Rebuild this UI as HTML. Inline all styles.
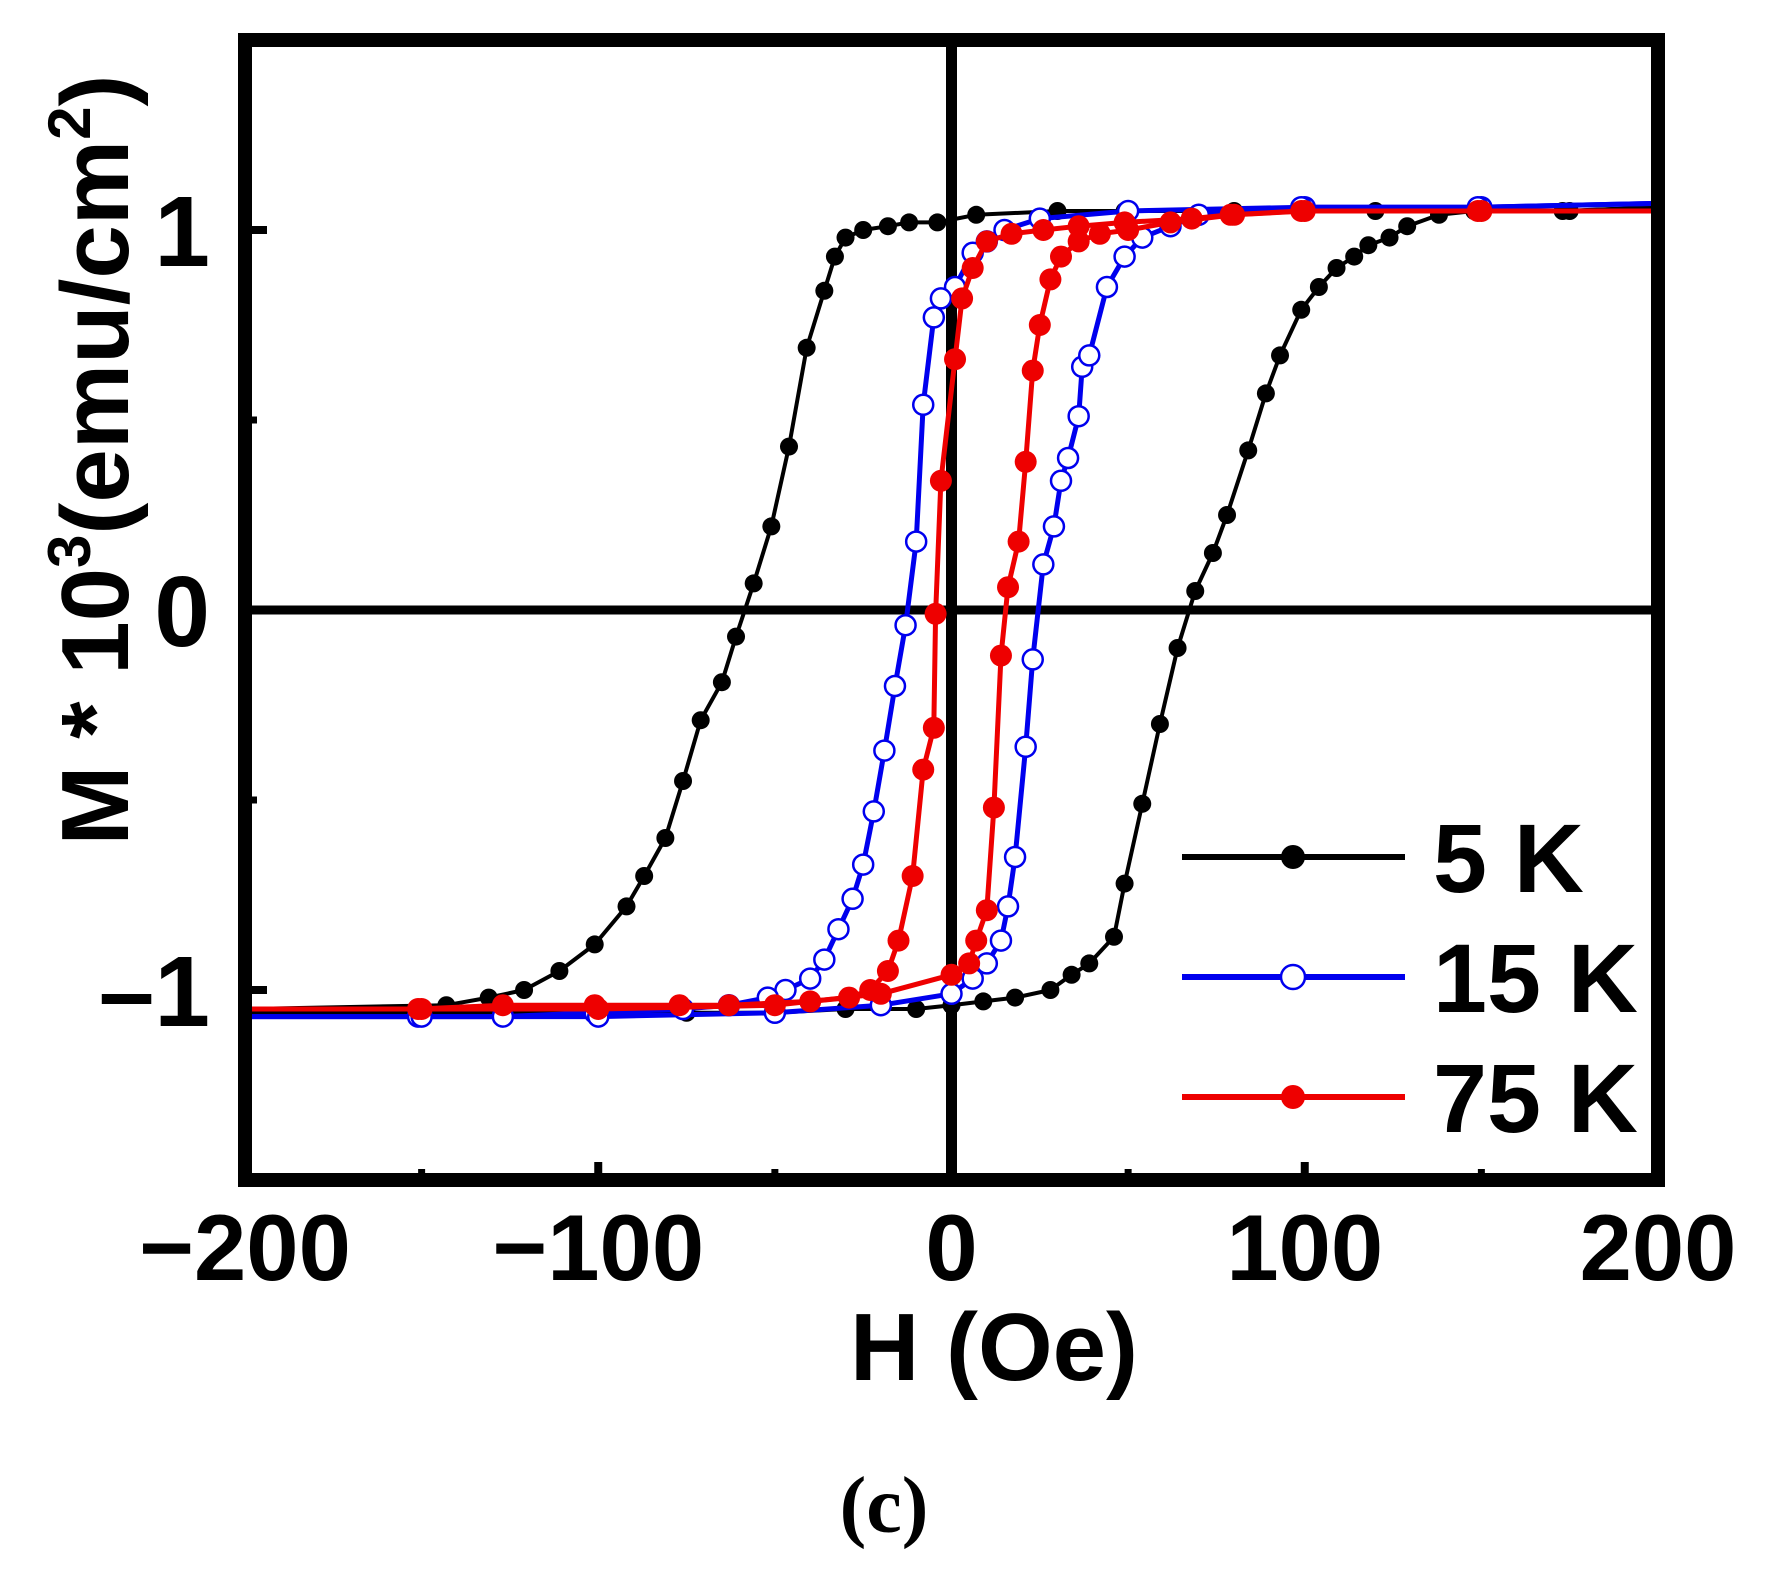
<!DOCTYPE html>
<html><head><meta charset="utf-8"><style>
html,body{margin:0;padding:0;background:#fff;}
svg{display:block;}
text{font-family:"Liberation Sans",sans-serif;font-weight:bold;}
</style></head><body>
<svg id="chart" width="1768" height="1588" viewBox="0 0 1768 1588" xmlns="http://www.w3.org/2000/svg">
<g id="marks"></g>
<g id="axes"></g>
<g id="legend"></g>
<text x="994" y="1380" font-size="96" text-anchor="middle">H (Oe)</text>
<text transform="translate(128,460) rotate(-90)" font-size="96" text-anchor="middle">M * 10<tspan font-size="60" dy="-38">3</tspan><tspan dy="38">(emu/cm</tspan><tspan font-size="60" dy="-38">2</tspan><tspan dy="38">)</tspan></text>
<text x="884" y="1532" font-size="80" text-anchor="middle" style="font-family:'Liberation Serif',serif;font-weight:bold">(c)</text>
</svg>
<script>
// ---- data ----
const xTicks = [-200, -100, 0, 100, 200];
const yTicks = [-1, 0, 1];
const xMinor = [-150, -50, 50, 150];
const yMinor = [-0.5, 0.5];
const seriesNames = ['5 K', '15 K', '75 K'];
// 5 K
const k5H_down = [200,173,148,120,100,80,49,30,7,-4,-12,-18,-25,-30,-33,-36,-41,-46,-51,-56,-61,-65,-71,-76,-81,-87,-92,-101,-111,-121,-131,-143,-200];
const k5M_down = [1.06,1.05,1.05,1.05,1.05,1.05,1.05,1.05,1.04,1.02,1.02,1.01,1.0,0.98,0.93,0.84,0.69,0.43,0.22,0.07,-0.07,-0.19,-0.29,-0.45,-0.6,-0.7,-0.78,-0.88,-0.95,-1.0,-1.02,-1.04,-1.05];
const k5H_up = [-200,-150,-100,-75,-50,-30,-10,0,9,18,28,34,39,46,49,54,59,64,69,74,78,84,89,93,99,104,109,114,118,124,129,138,148,175,200];
const k5M_up = [-1.06,-1.06,-1.06,-1.06,-1.06,-1.05,-1.05,-1.04,-1.03,-1.02,-1.0,-0.96,-0.93,-0.86,-0.72,-0.51,-0.3,-0.1,0.05,0.15,0.25,0.42,0.57,0.67,0.79,0.85,0.9,0.93,0.96,0.98,1.01,1.04,1.05,1.05,1.06];
// 15 K
const k15H_down = [200,150,100,50,25,15,10,6,1,-3,-5,-8,-10,-13,-16,-19,-22,-25,-28,-32,-36,-40,-47,-52,-63,-76,-101,-127,-151,-200];
const k15M_down = [1.07,1.06,1.06,1.05,1.03,1.0,0.97,0.94,0.85,0.82,0.77,0.54,0.18,-0.04,-0.2,-0.37,-0.53,-0.67,-0.76,-0.84,-0.92,-0.97,-1.0,-1.02,-1.04,-1.05,-1.06,-1.07,-1.07,-1.07];
const k15H_up = [-200,-150,-100,-50,-20,0,6,10,14,16,18,21,23,26,29,31,33,36,37,39,44,49,54,62,70,99,149,200];
const k15M_up = [-1.07,-1.07,-1.07,-1.06,-1.04,-1.01,-0.97,-0.93,-0.87,-0.78,-0.65,-0.36,-0.13,0.12,0.22,0.34,0.4,0.51,0.64,0.67,0.85,0.93,0.98,1.01,1.04,1.06,1.06,1.07];
// 75 K
const k75H_down = [200,149,99,79,68,49,36,26,17,10,6,3,1,-3,-4.5,-5,-8,-11,-15,-18,-23,-29,-40,-63,-77,-101,-127,-151,-200];
const k75M_down = [1.05,1.05,1.05,1.04,1.03,1.02,1.01,1.0,0.99,0.97,0.9,0.82,0.66,0.34,-0.01,-0.31,-0.42,-0.7,-0.87,-0.95,-1.0,-1.02,-1.03,-1.04,-1.04,-1.04,-1.04,-1.05,-1.05];
const k75H_up = [-200,-150,-100,-50,-20,0,5,7,10,12,14,16,19,21,23,25,28,31,36,42,50,62,80,100,150,200];
const k75M_up = [-1.05,-1.05,-1.05,-1.04,-1.01,-0.96,-0.93,-0.87,-0.79,-0.52,-0.12,0.06,0.18,0.39,0.63,0.75,0.87,0.93,0.97,0.99,1.0,1.02,1.04,1.05,1.05,1.05];

// ---- scales ----
const X0=245, X1=1658, Y0=40, Y1=1180;
const xMin=-200, xMax=200, yMin=-1.5, yMax=1.5;
function sx(v){return X0+(v-xMin)/(xMax-xMin)*(X1-X0);}
function sy(v){return Y1-(v-yMin)/(yMax-yMin)*(Y1-Y0);}
const NS='http://www.w3.org/2000/svg';
function mk(tag,attrs,parent){const e=document.createElementNS(NS,tag);for(const k in attrs)e.setAttribute(k,attrs[k]);parent.appendChild(e);return e;}
const marks=document.getElementById('marks'), axes=document.getElementById('axes'), legend=document.getElementById('legend');

let zl=mk('line',{x1:sx(xMin),x2:sx(xMax),y1:sy(0),y2:sy(0),stroke:'#000','stroke-width':9},marks);


zl=mk('line',{x1:sx(0),x2:sx(0),y1:sy(yMin),y2:sy(yMax),stroke:'#000','stroke-width':11},marks);



const series=[
 {name:'series-5k',color:'#000',fill:'#000',r:9,lw:4,branches:[[k5H_down,k5M_down],[k5H_up,k5M_up]]},
 {name:'series-15k',color:'#0000ee',fill:'#fff',r:10,lw:5,branches:[[k15H_down,k15M_down],[k15H_up,k15M_up]]},
 {name:'series-75k',color:'#ee0000',fill:'#ee0000',r:11,lw:5,branches:[[k75H_down,k75M_down],[k75H_up,k75M_up]]}
];
series.forEach(s=>{
  const g=mk('g',{},marks);
  
  
  s.branches.forEach((b,bi)=>{
    const pts=b[0].map((h,i)=>sx(h).toFixed(1)+','+sy(b[1][i]).toFixed(1)).join(' ');
    const pl=mk('polyline',{points:pts,fill:'none',stroke:s.color,'stroke-width':s.lw,'stroke-linejoin':'round'},g);
    
    
  });
  s.branches.forEach(b=>{
    b[0].forEach((h,i)=>{
      if(h<=xMin||h>=xMax) return;
      const c=mk('circle',{cx:sx(h),cy:sy(b[1][i]),r:s.r,fill:s.fill,stroke:s.color,'stroke-width':s.fill==='#fff'?2.5:0},g);
      
      
    });
  });
});

const fr=mk('rect',{x:X0,y:Y0,width:X1-X0,height:Y1-Y0,fill:'none',stroke:'#000','stroke-width':14},axes);


xTicks.forEach(t=>{
  const l=mk('line',{x1:sx(t),x2:sx(t),y1:Y1,y2:Y1-18,stroke:'#000','stroke-width':8},axes);
  
  
  const tx=mk('text',{x:sx(t),y:1280,'font-size':94,'text-anchor':'middle'},axes);
  tx.textContent=t<0?'\u2212'+Math.abs(t):String(t);
  
  
});
xMinor.forEach(t=>{
  const l=mk('line',{x1:sx(t),x2:sx(t),y1:Y1,y2:Y1-11,stroke:'#000','stroke-width':7},axes);
  
  
});
yTicks.forEach(t=>{
  const l=mk('line',{x1:X0,x2:X0+22,y1:sy(t),y2:sy(t),stroke:'#000','stroke-width':8},axes);
  
  
  const tx=mk('text',{x:210,y:sy(t)+36,'font-size':100,'text-anchor':'end'},axes);
  tx.textContent=t<0?'\u2013'+Math.abs(t):String(t);
  
  
});
yMinor.forEach(t=>{
  const l=mk('line',{x1:X0,x2:X0+12,y1:sy(t),y2:sy(t),stroke:'#000','stroke-width':7},axes);
  
  
});

const legY=[857,977,1097];
series.forEach((s,i)=>{
  const g=mk('g',{},legend);
  
  
  mk('line',{x1:1182,x2:1405,y1:legY[i],y2:legY[i],stroke:s.color,'stroke-width':6},g);
  mk('circle',{cx:1293,cy:legY[i],r:12,fill:s.fill,stroke:s.color,'stroke-width':s.fill==='#fff'?2.5:0},g);
  const t=mk('text',{x:1433,y:legY[i]+35,'font-size':97},g);
  t.textContent=seriesNames[i];
});
</script>
</body></html>
